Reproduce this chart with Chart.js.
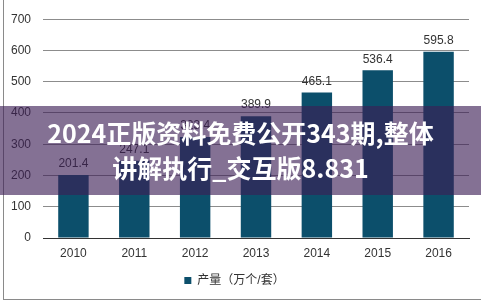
<!DOCTYPE html>
<html>
<head>
<meta charset="utf-8">
<script src="https://cdn.jsdelivr.net/npm/chart.js@4/dist/chart.umd.min.js"></script>
<style>
  html, body { margin: 0; padding: 0; background: #fff; }
  #wrap { position: relative; width: 481px; height: 303px; overflow: hidden; }
  #frame { position: absolute; left: 3px; top: -2px; width: 490px; height: 302px;
           border-left: 1px solid #8a8a8a; border-bottom: 1px solid #8a8a8a; box-sizing: border-box; }
  canvas { position: absolute; left: 0; top: 0; }
  #band { position: absolute; left: 0; top: 106px; width: 481px; height: 89px;
          background: rgba(60, 30, 85, 0.63); }
  #caption { position: absolute; left: 0; top: 115px; width: 481px; text-align: center;
             color: #fff; font-family: "Noto Sans CJK SC", sans-serif; font-weight: bold;
             font-size: 25px; line-height: 35px; }
</style>
</head>
<body>
<div id="wrap">
  <div id="frame"></div>
  <canvas id="c" width="481" height="303"></canvas>
  <div id="band"></div>
  <div id="caption">2024正版资料免费公开343期,整体<br>讲解执行_交互版8.831</div>
</div>
<script>
const years = ['2010', '2011', '2012', '2013', '2014', '2015', '2016'];
const output = [201.4, 247.1, 323.4, 389.9, 465.1, 536.4, 595.8];
const seriesName = '产量（万个/套）';

const FONT = '"Liberation Sans", Arial, "Noto Sans CJK SC", sans-serif';

// plot area the axes should span (top/bottom edges, px)
const PLOT_TOP = 12;
const PLOT_BOTTOM = 238;

// value labels above each bar
const barValues = {
  id: 'barValues',
  afterDatasetsDraw(chart) {
    const ctx = chart.ctx;
    const meta = chart.getDatasetMeta(0);
    ctx.save();
    ctx.font = '12px ' + FONT;
    ctx.fillStyle = '#333';
    ctx.textAlign = 'center';
    ctx.textBaseline = 'bottom';
    meta.data.forEach((bar, i) => {
      ctx.fillText(output[i].toFixed(1), bar.x, bar.y - 5);
    });
    ctx.restore();
  }
};

const chart = new Chart(document.getElementById('c'), {
  type: 'bar',
  data: {
    labels: years,
    datasets: [{
      label: seriesName,
      data: output,
      backgroundColor: '#0c4f6b',
      borderWidth: 0,
      categoryPercentage: 1.0,
      barPercentage: 0.5
    }]
  },
  options: {
    responsive: false,
    animation: false,
    layout: { autoPadding: false, padding: { left: 0, right: 12, top: 4.8, bottom: 6.6 } },
    scales: {
      x: {
        grid: { display: false },
        border: { display: true, color: '#333', width: 1 },
        ticks: { color: '#333', font: { family: FONT, size: 12 }, padding: 0 }
      },
      y: {
        min: 0, max: 700,
        afterFit(scale) { scale.width = 43; },
        grid: { color: '#8c8c8c', lineWidth: 1, drawTicks: false },
        border: { display: false },
        ticks: { stepSize: 100, color: '#333', font: { family: FONT, size: 12 }, padding: 12 }
      }
    },
    plugins: {
      tooltip: { enabled: false },
      legend: {
        position: 'bottom',
        labels: {
          color: '#333',
          font: { family: FONT, size: 12 },
          boxWidth: 7, boxHeight: 7, padding: 14
        }
      }
    }
  },
  plugins: [barValues]
});

// nudge the layout padding until the plot area sits where intended
for (let i = 0; i < 3; i++) {
  const area = chart.chartArea;
  const dTop = area.top - PLOT_TOP;
  const dBottom = PLOT_BOTTOM - area.bottom;
  if (Math.abs(dTop) < 0.3 && Math.abs(dBottom) < 0.3) break;
  chart.options.layout.padding.top -= dTop;
  chart.options.layout.padding.bottom -= dBottom;
  chart.update();
}
</script>
</body>
</html>
